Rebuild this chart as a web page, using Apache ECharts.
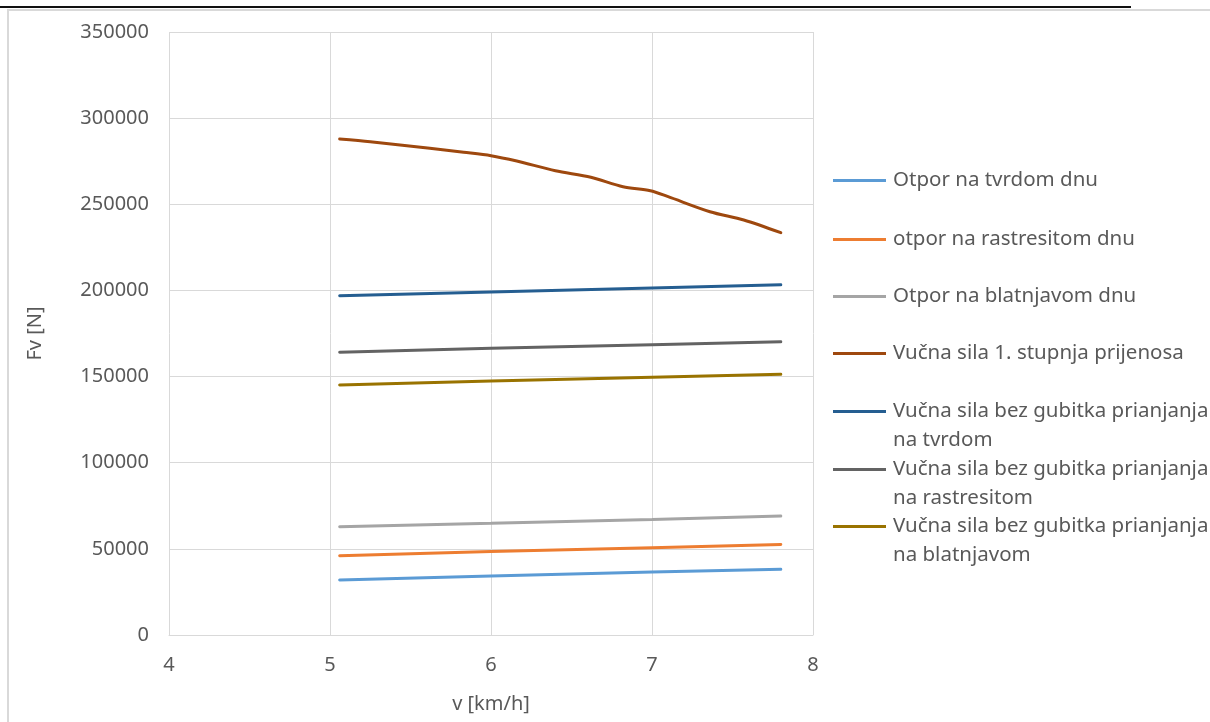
<!DOCTYPE html>
<html>
<head>
<meta charset="utf-8">
<script src="https://cdn.jsdelivr.net/npm/echarts@6/dist/echarts.min.js"></script>
<style>
  html, body { margin: 0; padding: 0; background: #fff; }
  #topline { position: absolute; left: 0; top: 6px; width: 1131px; height: 2px; background: #111; }
  #frame { position: absolute; left: 7px; top: 9px; width: 1203px; height: 713px; border-left: 2px solid #d9d9d9; border-top: 2px solid #d9d9d9; box-sizing: border-box; }
  #chart { position: absolute; left: 0; top: 0; width: 1210px; height: 722px; }
</style>
</head>
<body>
<div id="topline"></div>
<div id="frame"></div>
<div id="chart"></div>
<script>
// brzine i sile ocitane s grafa
const vLin = [5.06, 6, 7, 7.8];
const otporTvrdo = [31900, 34200, 36600, 38100];
const otporRastresito = [46000, 48400, 50700, 52600];
const otporBlatnjavo = [62900, 64800, 67100, 69100];
const vucnaTvrdo = [196900, 199100, 201400, 203300];
const vucnaRastresito = [164100, 166400, 168500, 170200];
const vucnaBlatnjavo = [145100, 147400, 149600, 151300];

const vPrijenos = [5.06, 5.25, 5.62, 5.83, 6.0, 6.16, 6.4, 6.62, 6.82, 6.99, 7.1, 7.36, 7.57, 7.8];
const vucnaPrijenos = [287900, 286300, 282500, 280200, 278200, 275100, 269500, 265700, 260200, 257900, 254400, 245700, 240900, 233500];

const xTicks = [4, 5, 6, 7, 8];
const yTicks = [0, 50000, 100000, 150000, 200000, 250000, 300000, 350000];

const names = [
  'Otpor na tvrdom dnu',
  'otpor na rastresitom dnu',
  'Otpor na blatnjavom dnu',
  'Vučna sila 1. stupnja prijenosa',
  'Vučna sila bez gubitka prianjanja na tvrdom',
  'Vučna sila bez gubitka prianjanja na rastresitom',
  'Vučna sila bez gubitka prianjanja na blatnjavom'
];
const colors = ['#5B9BD5', '#ED7D31', '#A5A5A5', '#9E480E', '#255E91', '#636363', '#997300'];

const FONT = 'Noto Sans';
const TXT = '#595959';

function pairs(xs, ys) {
  return xs.map((x, i) => [x, ys[i]]);
}

const lineData = [
  pairs(vLin, otporTvrdo),
  pairs(vLin, otporRastresito),
  pairs(vLin, otporBlatnjavo),
  pairs(vPrijenos, vucnaPrijenos),
  pairs(vLin, vucnaTvrdo),
  pairs(vLin, vucnaRastresito),
  pairs(vLin, vucnaBlatnjavo)
];

// legenda: svaka stavka posebno da razmak bude kao u Excelu
const legendTops = [181, 240, 297, 354, 412, 470, 527];
const legends = names.map((n, i) => ({
  orient: 'vertical',
  left: 833,
  top: legendTops[i] - (i >= 4 ? 44 : 15),
  padding: 0,
  data: [n],
  icon: 'rect',
  itemWidth: 53,
  itemHeight: 3,
  itemGap: 0,
  selectedMode: false,
  formatter: function (name) {
    if (name.indexOf('prianjanja ') > 0) {
      const k = name.indexOf('prianjanja ') + 10;
      return '\n' + name.slice(0, k) + '\n' + name.slice(k + 1);
    }
    return name;
  },
  textStyle: { fontFamily: FONT, fontSize: 20.5, color: TXT, lineHeight: 29, padding: [0, 0, 0, 2] }
}));

const chart = echarts.init(document.getElementById('chart'));
chart.setOption({
  animation: false,
  color: colors,
  legend: legends,
  grid: { left: 169, right: 397, top: 32, bottom: 87 },
  xAxis: {
    type: 'value',
    min: xTicks[0],
    max: xTicks[xTicks.length - 1],
    interval: 1,
    name: 'v [km/h]',
    nameLocation: 'middle',
    nameGap: 59,
    nameTextStyle: { fontFamily: FONT, fontSize: 20, color: TXT, verticalAlign: 'top' },
    axisLine: { lineStyle: { color: '#d9d9d9', width: 1 } },
    axisTick: { show: false },
    axisLabel: { fontFamily: FONT, fontSize: 20, color: TXT, margin: 20 },
    splitLine: { lineStyle: { color: '#d9d9d9', width: 1 } }
  },
  yAxis: {
    type: 'value',
    min: yTicks[0],
    max: yTicks[yTicks.length - 1],
    interval: 50000,
    name: 'Fv [N]',
    nameLocation: 'middle',
    nameGap: 124,
    nameTextStyle: { fontFamily: FONT, fontSize: 20, color: TXT },
    axisLine: { show: false },
    axisTick: { show: false },
    axisLabel: {
      fontFamily: FONT, fontSize: 20, color: TXT, margin: 20,
      formatter: function (v) { return String(v); }
    },
    splitLine: { lineStyle: { color: '#d9d9d9', width: 1 } }
  },
  series: names.map((n, i) => ({
    name: n,
    type: 'line',
    data: lineData[i],
    showSymbol: false,
    smooth: i === 3 ? 0.3 : false,
    lineStyle: { width: 3, color: colors[i], cap: 'round' },
    itemStyle: { color: colors[i] }
  }))
});
</script>
</body>
</html>
